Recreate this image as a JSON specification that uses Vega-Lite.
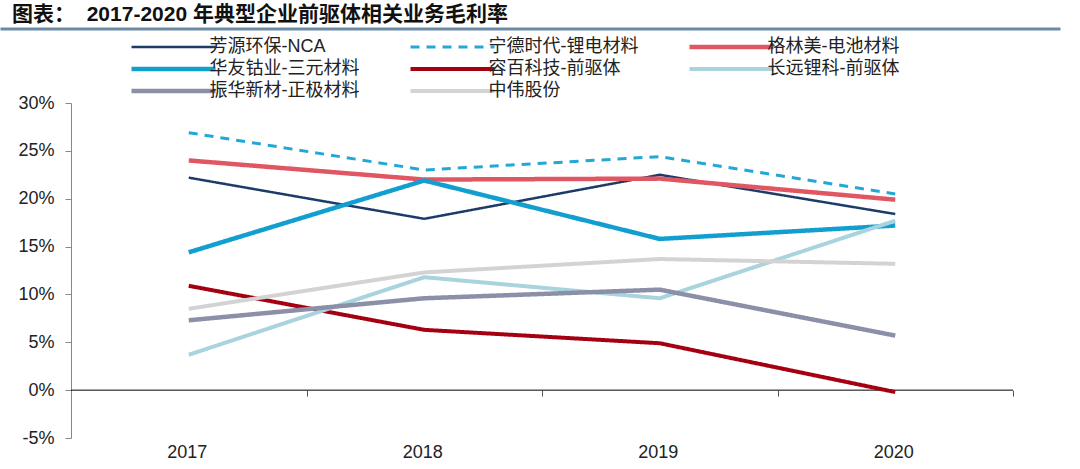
{
  "$schema": "https://vega.github.io/schema/vega-lite/v6.json",
  "background": "white",
  "padding": {"left": 0, "top": 2, "right": 0, "bottom": 0},
  "spacing": 4,
  "columns": 1,
  "config": {
    "font": "Liberation Sans, Noto Sans CJK SC",
    "view": {"stroke": null}
  },
  "resolve": {"scale": {"color": "independent", "strokeDash": "independent", "strokeWidth": "independent"}, "legend": {"color": "independent", "strokeDash": "independent", "strokeWidth": "independent"}},
  "concat": [
    {
      "width": 1057,
      "height": 0.001,
      "title": {
        "text": "图表： \u00a02017-2020 年典型企业前驱体相关业务毛利率",
        "anchor": "start",
        "frame": "group",
        "font": "Liberation Sans, Noto Sans CJK SC",
        "fontSize": 21,
        "fontWeight": "bold",
        "color": "#111111",
        "dx": 10,
        "offset": 1
      },
      "view": {"stroke": "#6b8aa6", "strokeWidth": 3, "fill": null},
      "data": {"values": [{"k": 1}]},
      "mark": {"type": "point", "opacity": 0},
      "encoding": {}
    },
    {
      "width": 1011,
      "height": 335,
      "layer": [
        {
          "data": {"values": [{"k": 1}]},
          "mark": {"type": "rule", "color": "#000000", "strokeWidth": 1},
          "encoding": {
            "x": {"datum": "2017", "type": "ordinal", "bandPosition": 0},
            "x2": {"datum": "2020", "bandPosition": 1},
            "y": {"datum": 0, "type": "quantitative"}
          }
        },
        {
          "data": {
            "values": [
              {"company": "芳源环保-NCA", "year": "2017", "value": 22.2},
              {"company": "芳源环保-NCA", "year": "2018", "value": 17.9},
              {"company": "芳源环保-NCA", "year": "2019", "value": 22.5},
              {"company": "芳源环保-NCA", "year": "2020", "value": 18.4},
              {"company": "宁德时代-锂电材料", "year": "2017", "value": 26.9},
              {"company": "宁德时代-锂电材料", "year": "2018", "value": 23.0},
              {"company": "宁德时代-锂电材料", "year": "2019", "value": 24.4},
              {"company": "宁德时代-锂电材料", "year": "2020", "value": 20.5},
              {"company": "格林美-电池材料", "year": "2017", "value": 24.0},
              {"company": "格林美-电池材料", "year": "2018", "value": 22.0},
              {"company": "格林美-电池材料", "year": "2019", "value": 22.1},
              {"company": "格林美-电池材料", "year": "2020", "value": 19.9},
              {"company": "华友钴业-三元材料", "year": "2017", "value": 14.4},
              {"company": "华友钴业-三元材料", "year": "2018", "value": 21.9},
              {"company": "华友钴业-三元材料", "year": "2019", "value": 15.8},
              {"company": "华友钴业-三元材料", "year": "2020", "value": 17.2},
              {"company": "容百科技-前驱体", "year": "2017", "value": 10.9},
              {"company": "容百科技-前驱体", "year": "2018", "value": 6.3},
              {"company": "容百科技-前驱体", "year": "2019", "value": 4.9},
              {"company": "容百科技-前驱体", "year": "2020", "value": -0.2},
              {"company": "长远锂科-前驱体", "year": "2017", "value": 3.7},
              {"company": "长远锂科-前驱体", "year": "2018", "value": 11.8},
              {"company": "长远锂科-前驱体", "year": "2019", "value": 9.6},
              {"company": "长远锂科-前驱体", "year": "2020", "value": 17.7},
              {"company": "振华新材-正极材料", "year": "2017", "value": 7.3},
              {"company": "振华新材-正极材料", "year": "2018", "value": 9.6},
              {"company": "振华新材-正极材料", "year": "2019", "value": 10.5},
              {"company": "振华新材-正极材料", "year": "2020", "value": 5.7},
              {"company": "中伟股份", "year": "2017", "value": 8.5},
              {"company": "中伟股份", "year": "2018", "value": 12.3},
              {"company": "中伟股份", "year": "2019", "value": 13.7},
              {"company": "中伟股份", "year": "2020", "value": 13.2}
            ]
          },
          "mark": {"type": "line"},
          "encoding": {
            "x": {
              "field": "year",
              "type": "ordinal",
              "bandPosition": 0.5,
              "scale": {"type": "band", "paddingInner": 0, "paddingOuter": 0.146497, "align": 1},
              "axis": {
                "title": null,
                "offset": -47.86,
                "domain": false,
                "tickColor": "#555555",
                "tickSize": 6,
                "tickBand": "extent",
                "labelAngle": 0,
                "labelOffset": 18,
                "labelFontSize": 18,
                "labelColor": "#222222",
                "labelPadding": 56
              }
            },
            "y": {
              "field": "value",
              "type": "quantitative",
              "scale": {"domain": [-5, 30], "nice": false, "zero": false},
              "axis": {
                "title": null,
                "offset": -69,
                "values": [-5, 0, 5, 10, 15, 20, 25, 30],
                "labelExpr": "datum.value + '%'",
                "grid": false,
                "domainColor": "#888888",
                "tickColor": "#888888",
                "tickSize": 6,
                "labelPadding": 11,
                "labelFontSize": 18,
                "labelColor": "#222222"
              }
            },
            "color": {
              "field": "company",
              "type": "nominal",
              "scale": {
                "domain": ["芳源环保-NCA", "宁德时代-锂电材料", "格林美-电池材料", "华友钴业-三元材料", "容百科技-前驱体", "长远锂科-前驱体", "振华新材-正极材料", "中伟股份"],
                "range": ["#1c3b68", "#23a8d6", "#e05763", "#129fd0", "#a50011", "#a9d4dd", "#8b8fa8", "#d3d3d3"]
              },
              "legend": {
                "title": null,
                "orient": "none",
                "direction": "horizontal",
                "legendX": 162.5,
                "legendY": -65,
                "columns": 3,
                "gridAlign": "all",
                "columnPadding": 42,
                "rowPadding": 4,
                "padding": 0,
                "symbolType": "M-8.4,0H8.4",
                "symbolSize": 100,
                "labelOffset": 27,
                "labelFont": "Liberation Sans, Noto Sans CJK SC",
                "labelFontSize": 18,
                "labelColor": "#222222",
                "labelLimit": 300
              }
            },
            "strokeDash": {
              "field": "company",
              "type": "nominal",
              "scale": {
                "domain": ["芳源环保-NCA", "宁德时代-锂电材料", "格林美-电池材料", "华友钴业-三元材料", "容百科技-前驱体", "长远锂科-前驱体", "振华新材-正极材料", "中伟股份"],
                "range": [[1, 0], [9, 7], [1, 0], [1, 0], [1, 0], [1, 0], [1, 0], [1, 0]]
              }
            },
            "strokeWidth": {
              "field": "company",
              "type": "ordinal",
              "scale": {
                "type": "ordinal",
                "domain": ["芳源环保-NCA", "宁德时代-锂电材料", "格林美-电池材料", "华友钴业-三元材料", "容百科技-前驱体", "长远锂科-前驱体", "振华新材-正极材料", "中伟股份"],
                "range": [2.5, 3, 4.5, 4.5, 4, 4, 4.5, 4]
              }
            }
          }
        }
      ]
    }
  ]
}
